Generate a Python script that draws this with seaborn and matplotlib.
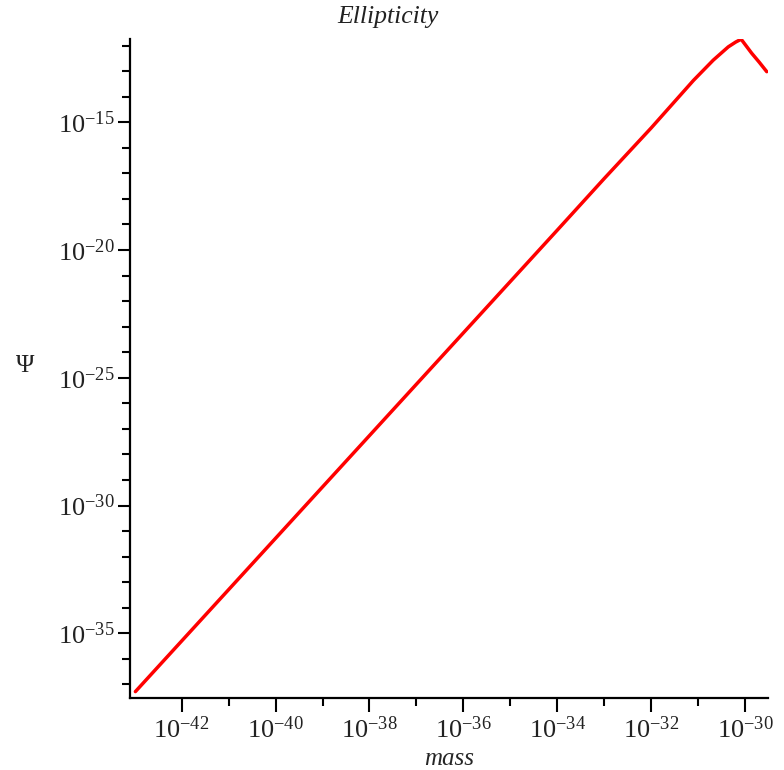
import numpy as np
import pandas as pd
import matplotlib
matplotlib.use("Agg")
import matplotlib.pyplot as plt
import seaborn as sns
from matplotlib.ticker import FixedLocator, NullFormatter, FuncFormatter

# data (log10 exponents)
mass_exp = [-42.985, -42.0, -40.0, -38.0, -36.0, -34.0, -33.0, -32.0, -31.4, -31.1,
            -30.68, -30.36, -30.2, -30.085, -29.86, -29.7, -29.54]
psi_exp = [-37.28, -35.30, -31.28, -27.26, -23.24, -19.22, -17.20, -15.22, -13.98, -13.36,
           -12.57, -12.05, -11.86, -11.75, -12.30, -12.65, -13.02]

x_major_exp = [-42, -40, -38, -36, -34, -32, -30]
x_minor_exp = [-41, -39, -37, -35, -33, -31]
y_major_exp = [-35, -30, -25, -20, -15]
y_minor_exp = [-37, -36, -34, -33, -32, -31, -29, -28, -27, -26, -24, -23, -22,
               -21, -19, -18, -17, -16, -14, -13, -12]

title = "Ellipticity"
xlabel = "mass"
ylabel = "Ψ"

df = pd.DataFrame({"mass": np.power(10.0, mass_exp), "psi": np.power(10.0, psi_exp)})

sns.set_style("white")
plt.rcParams["font.family"] = ["Liberation Serif", "DejaVu Serif"]
plt.rcParams["mathtext.fontset"] = "custom"
plt.rcParams["mathtext.rm"] = "Liberation Serif"
plt.rcParams["mathtext.it"] = "Liberation Serif:italic"
plt.rcParams["mathtext.bf"] = "Liberation Serif:bold"

fig = plt.figure(figsize=(7.84, 7.70), dpi=100)
ax = fig.add_axes([0.1658, 0.0935, 0.9792 - 0.1658, 0.9494 - 0.0935])

sns.lineplot(data=df, x="mass", y="psi", ax=ax, color="#ff0000", linewidth=2.5,
             sort=False, estimator=None)

ax.set_xscale("log")
ax.set_yscale("log")
ax.set_xlim(10 ** -43.1, 10 ** -29.52)
ax.set_ylim(10 ** -37.53, 10 ** -11.74)

ax.xaxis.set_major_locator(FixedLocator([10.0 ** e for e in x_major_exp]))
ax.xaxis.set_minor_locator(FixedLocator([10.0 ** e for e in x_minor_exp]))
ax.yaxis.set_major_locator(FixedLocator([10.0 ** e for e in y_major_exp]))
ax.yaxis.set_minor_locator(FixedLocator([10.0 ** e for e in y_minor_exp]))
fmt = FuncFormatter(lambda v, p: r"$10^{%d}$" % int(round(np.log10(v))))
ax.xaxis.set_major_formatter(fmt)
ax.yaxis.set_major_formatter(fmt)
ax.xaxis.set_minor_formatter(NullFormatter())
ax.yaxis.set_minor_formatter(NullFormatter())

for s in ["top", "right"]:
    ax.spines[s].set_visible(False)
for s in ["left", "bottom"]:
    ax.spines[s].set_color("black")
    ax.spines[s].set_linewidth(1.6)

ax.tick_params(axis="both", which="major", direction="out", length=10, width=1.5,
               color="black", labelsize=19, labelcolor="#222222", pad=3,
               left=True, bottom=True)
ax.tick_params(axis="y", which="major", length=9, pad=2)
ax.tick_params(axis="both", which="minor", direction="out", length=6, width=1.5,
               color="black", left=True, bottom=True)

ax.set_xlabel(xlabel, fontsize=18, style="italic", labelpad=4)
ax.set_ylabel("")
fig.text(25 / 784, 1 - 366 / 770, ylabel, ha="center", va="center", fontsize=18,
         color="#222222")
fig.text(0.495, 0.978, title, ha="center", va="center", fontsize=18.5,
         style="italic", color="#222222")
ax.grid(False)

fig.savefig("out.png", dpi=100)
